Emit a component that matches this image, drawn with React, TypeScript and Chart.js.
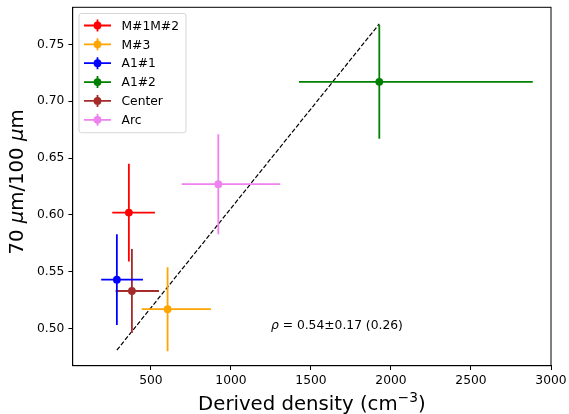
import { useEffect, useRef } from 'react';
import { Chart, registerables } from 'chart.js';

Chart.register(...registerables);

const regions = ['M#1M#2', 'M#3', 'A1#1', 'A1#2', 'Center', 'Arc'];
const colors = ['#ff0000', '#ffa500', '#0000ff', '#008000', '#a52a2a', '#ee82ee'];
const density = [362, 604, 287, 1927, 381, 921];
const densityErrLow = [104, 162, 98, 502, 102, 229];
const densityErrHigh = [163, 271, 163, 959, 169, 387];
const ratio = [0.602, 0.517, 0.543, 0.717, 0.533, 0.627];
const ratioErr = [0.043, 0.037, 0.04, 0.05, 0.037, 0.044];
const fitX = [287, 1927];
const fitY = [0.481, 0.768];
const xTicks = [500, 1000, 1500, 2000, 2500, 3000];
const yTicks = [0.5, 0.55, 0.6, 0.65, 0.7, 0.75];
const xRange = [11, 3000];
const yRange = [0.4673, 0.7826];
const rhoText = ' = 0.54±0.17 (0.26)';
const rhoPos = [1250, 0.5];

const FONT = "'DejaVu Sans', 'Noto Sans', sans-serif";

const overlay = {
  id: 'overlay',
  afterDraw(chart: any) {
    const { ctx, chartArea: a, scales } = chart;
    ctx.save();
    // spines
    ctx.strokeStyle = '#000';
    ctx.lineWidth = 1;
    ctx.strokeRect(a.left, a.top, a.right - a.left, a.bottom - a.top);

    // rho annotation
    const rx = scales.x.getPixelForValue(rhoPos[0]);
    const ry = scales.y.getPixelForValue(rhoPos[1]);
    ctx.fillStyle = '#000';
    ctx.textBaseline = 'alphabetic';
    ctx.textAlign = 'left';
    ctx.font = `italic 12.3px ${FONT}`;
    ctx.fillText('ρ', rx, ry);
    const rw = ctx.measureText('ρ').width;
    ctx.font = `12.3px ${FONT}`;
    ctx.fillText(rhoText, rx + rw, ry);

    // x title
    const big = 19.7;
    const xt1 = 'Derived density (cm';
    const sup = '−3';
    const xt2 = ')';
    ctx.font = `${big}px ${FONT}`;
    const w1 = ctx.measureText(xt1).width;
    const w3 = ctx.measureText(xt2).width;
    ctx.font = `${big * 0.7}px ${FONT}`;
    const w2 = ctx.measureText(sup).width;
    const total = w1 + w2 + w3;
    const cx = (a.left + a.right) / 2;
    let sx = cx - total / 2;
    const by = 410;
    ctx.font = `${big}px ${FONT}`;
    ctx.fillText(xt1, sx, by);
    sx += w1;
    ctx.font = `${big * 0.7}px ${FONT}`;
    ctx.fillText(sup, sx, by - 8);
    sx += w2;
    ctx.font = `${big}px ${FONT}`;
    ctx.fillText(xt2, sx, by);

    // y title
    const parts: [string, boolean][] = [
      ['70 ', false],
      ['μ', true],
      ['m/100 ', false],
      ['μ', true],
      ['m', false],
    ];
    let tw = 0;
    const widths = parts.map(([t, it]) => {
      ctx.font = `${it ? 'italic ' : ''}${big}px ${FONT}`;
      const w = ctx.measureText(t).width;
      tw += w;
      return w;
    });
    ctx.save();
    ctx.translate(23, 182);
    ctx.rotate(-Math.PI / 2);
    let px = -tw / 2;
    parts.forEach(([t, it], i) => {
      ctx.font = `${it ? 'italic ' : ''}${big}px ${FONT}`;
      ctx.fillText(t, px, 0);
      px += widths[i];
    });
    ctx.restore();

    // legend
    const lx = 79, ly = 13.5, lw = 107, lh = 119.2, r = 2.5;
    ctx.beginPath();
    ctx.moveTo(lx + r, ly);
    ctx.lineTo(lx + lw - r, ly);
    ctx.arcTo(lx + lw, ly, lx + lw, ly + r, r);
    ctx.lineTo(lx + lw, ly + lh - r);
    ctx.arcTo(lx + lw, ly + lh, lx + lw - r, ly + lh, r);
    ctx.lineTo(lx + r, ly + lh);
    ctx.arcTo(lx, ly + lh, lx, ly + lh - r, r);
    ctx.lineTo(lx, ly + r);
    ctx.arcTo(lx, ly, lx + r, ly, r);
    ctx.closePath();
    ctx.fillStyle = 'rgba(255,255,255,0.8)';
    ctx.fill();
    ctx.strokeStyle = 'rgba(204,204,204,0.8)';
    ctx.lineWidth = 1;
    ctx.stroke();
    regions.forEach((name, i) => {
      const y = 25.5 + i * 18.86;
      ctx.strokeStyle = colors[i];
      ctx.lineWidth = 1.8;
      ctx.beginPath();
      ctx.moveTo(84, y);
      ctx.lineTo(111, y);
      ctx.moveTo(97.5, y - 6);
      ctx.lineTo(97.5, y + 6);
      ctx.stroke();
      ctx.fillStyle = colors[i];
      ctx.beginPath();
      ctx.arc(97.5, y, 3.9, 0, Math.PI * 2);
      ctx.fill();
      ctx.fillStyle = '#000';
      ctx.font = `12.3px ${FONT}`;
      ctx.textBaseline = 'alphabetic';
      ctx.fillText(name, 121.5, y + 4.2);
    });
    ctx.restore();
  },
};

export default function App() {
  const ref = useRef<HTMLCanvasElement>(null);
  useEffect(() => {
    const datasets: any[] = [];
    regions.forEach((name, i) => {
      datasets.push({
        type: 'line',
        label: name + ' xerr',
        data: [
          { x: density[i] - densityErrLow[i], y: ratio[i] },
          { x: density[i] + densityErrHigh[i], y: ratio[i] },
        ],
        borderColor: colors[i],
        borderWidth: 1.8,
        pointRadius: 0,
        showLine: true,
        fill: false,
      });
      datasets.push({
        type: 'line',
        label: name + ' yerr',
        data: [
          { x: density[i], y: ratio[i] - ratioErr[i] },
          { x: density[i], y: ratio[i] + ratioErr[i] },
        ],
        borderColor: colors[i],
        borderWidth: 1.8,
        pointRadius: 0,
        showLine: true,
        fill: false,
      });
      datasets.push({
        type: 'scatter',
        label: name,
        data: [{ x: density[i], y: ratio[i] }],
        pointRadius: 3.9,
        pointBackgroundColor: colors[i],
        pointBorderWidth: 0,
        backgroundColor: colors[i],
        borderColor: colors[i],
      });
    });
    datasets.push({
      type: 'line',
      label: 'fit',
      data: fitX.map((x, k) => ({ x, y: fitY[k] })),
      borderColor: '#000',
      borderWidth: 1.2,
      borderDash: [4.5, 2],
      pointRadius: 0,
      showLine: true,
      fill: false,
    });

    const tickFont = { family: FONT, size: 12.3 };
    const zeroPad = (s: any) => {
      s.paddingTop = 0;
      s.paddingBottom = 0;
      s.paddingLeft = 0;
      s.paddingRight = 0;
    };
    const chart = new Chart(ref.current!, {
      type: 'scatter',
      data: { datasets },
      plugins: [overlay],
      options: {
        animation: false,
        responsive: false,
        devicePixelRatio: 1,
        layout: { padding: { top: 7.3, right: 18, left: 0, bottom: 0 } },
        plugins: { legend: { display: false }, tooltip: { enabled: false } },
        scales: {
          x: {
            type: 'linear',
            min: xRange[0],
            max: xRange[1],
            afterBuildTicks: (s: any) => {
              s.ticks = xTicks.map((v) => ({ value: v }));
            },
            afterFit: (s: any) => {
              s.height = 414 - 365.7;
              zeroPad(s);
            },
            ticks: {
              font: tickFont,
              color: '#000',
              padding: 3,
              maxRotation: 0,
              autoSkip: false,
              callback: (v: any) => String(v),
            },
            grid: { drawOnChartArea: false, drawTicks: true, tickLength: 4.3, tickColor: '#000', tickWidth: 1 },
            border: { display: true, color: '#000', width: 1 },
          },
          y: {
            type: 'linear',
            min: yRange[0],
            max: yRange[1],
            afterBuildTicks: (s: any) => {
              s.ticks = yTicks.map((v) => ({ value: v }));
            },
            afterFit: (s: any) => {
              s.width = 72.7;
              zeroPad(s);
            },
            ticks: {
              font: tickFont,
              color: '#000',
              padding: 4,
              autoSkip: false,
              callback: (v: any) => Number(v).toFixed(2),
            },
            grid: { drawOnChartArea: false, drawTicks: true, tickLength: 4.3, tickColor: '#000', tickWidth: 1 },
            border: { display: true, color: '#000', width: 1 },
          },
        },
      } as any,
    });
    return () => chart.destroy();
  }, []);
  return (
    <div style={{ position: 'fixed', left: 0, top: 0, width: 569, height: 414, background: '#fff' }}>
      <canvas ref={ref} width={569} height={414} style={{ width: 569, height: 414 }} />
    </div>
  );
}
